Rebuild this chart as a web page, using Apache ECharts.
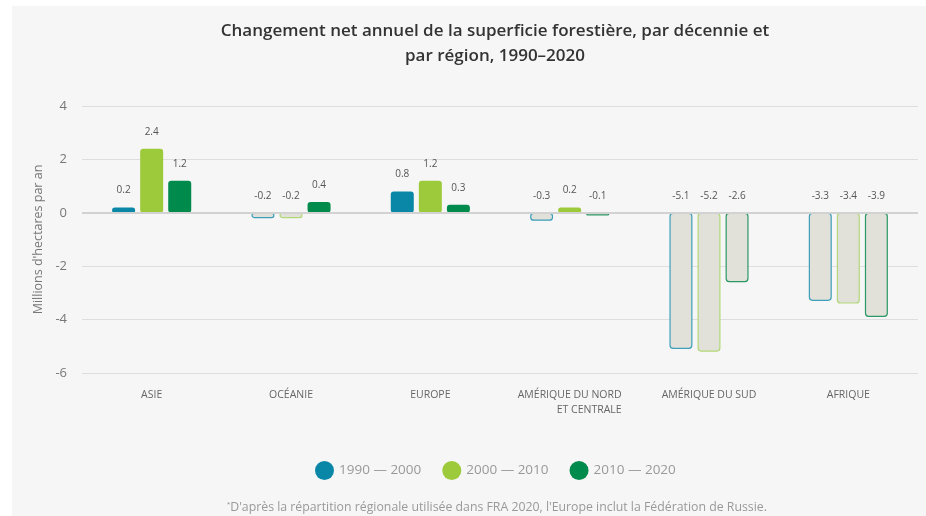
<!DOCTYPE html>
<html>
<head>
<meta charset="utf-8">
<script src="https://cdn.jsdelivr.net/npm/echarts@6/dist/echarts.min.js"></script>
<style>
  html, body { margin: 0; padding: 0; background: #ffffff; }
  #main { position: absolute; left: 12px; top: 6px; width: 914px; height: 510px; background: #f6f6f6; }
</style>
</head>
<body>
<div id="main"></div>
<script>
var regions = ['ASIE', 'OCÉANIE', 'EUROPE', 'AMÉRIQUE DU NORD\nET CENTRALE', 'AMÉRIQUE DU SUD', 'AFRIQUE'];
var decades = ['1990 — 2000', '2000 — 2010', '2010 — 2020'];
var values1990 = [0.2, -0.2, 0.8, -0.3, -5.1, -3.3];
var values2000 = [2.4, -0.2, 1.2, 0.2, -5.2, -3.4];
var values2010 = [1.2, 0.4, 0.3, -0.1, -2.6, -3.9];
var colors = ['#0a87a6', '#9dca3a', '#008a4b'];
var lossBorders = ['#3d9fba', '#b2d777', '#2b9865'];

var chartDom = document.getElementById('main');
var myChart = echarts.init(chartDom);
var font = '"Open Sans", sans-serif';

function makeSeries(name, vals, i) {
  var s = {
    name: name,
    type: 'bar',
    barWidth: 23,
    barGap: '22%',
    itemStyle: { color: colors[i], borderRadius: 3 },
    label: {
      show: true,
      position: 'top',
      distance: 12,
      fontSize: 10,
      fontFamily: font,
      color: '#555'
    },
    data: vals.map(function (v) {
      if (v < 0) {
        return {
          value: v,
          itemStyle: { color: '#e1e1da', borderColor: lossBorders[i], borderWidth: 1.2, borderRadius: 3 }
        };
      }
      return { value: v };
    })
  };
  if (i === 0) {
    // zero line
    s.markLine = {
      silent: true,
      symbol: 'none',
      label: { show: false },
      lineStyle: { color: '#d2d2d2', width: 2, type: 'solid' },
      data: [{ yAxis: 0 }]
    };
  }
  return s;
}

var option = {
  backgroundColor: '#f6f6f6',
  color: colors,
  title: {
    text: 'Changement net annuel de la superficie forestière, par décennie et\npar région, 1990–2020',
    left: 478,
    top: 8,
    textAlign: 'center',
    textStyle: { fontFamily: font, fontSize: 17, fontWeight: 600, color: '#333', lineHeight: 25 }
  },
  legend: {
    data: decades,
    left: 298,
    top: 450,
    icon: 'circle',
    itemWidth: 19,
    itemHeight: 19,
    itemGap: 21,
    textStyle: { fontFamily: font, fontSize: 13.5, color: '#999' }
  },
  graphic: [{
    type: 'text',
    x: 485,
    y: 501,
    style: {
      text: '{sup|*}D\'après la répartition régionale utilisée dans FRA 2020, l\'Europe inclut la Fédération de Russie.',
      font: '12.3px ' + font,
      fill: '#999',
      align: 'center',
      verticalAlign: 'middle',
      rich: { sup: { fontSize: 8, verticalAlign: 'top', fill: '#999' } }
    }
  }],
  grid: { left: 70, right: 8, top: 100, bottom: 143, outerBoundsMode: 'none', containLabel: false },
  xAxis: {
    type: 'category',
    data: regions,
    axisTick: { show: false },
    axisLine: { show: false, onZero: false },
    axisLabel: {
      interval: 0,
      margin: 15,
      verticalAlign: 'top',
      formatter: function (v) {
        return v.split('\n').map(function (line) { return '{r|' + line + '}'; }).join('\n');
      },
      rich: {
        r: { fontFamily: font, fontSize: 10.5, color: '#666', lineHeight: 15, align: 'right' }
      }
    }
  },
  yAxis: {
    type: 'value',
    min: -6,
    max: 4,
    interval: 2,
    name: 'Millions d\'hectares par an',
    nameLocation: 'middle',
    nameGap: 30,
    nameTextStyle: { fontFamily: font, fontSize: 12.5, color: '#777' },
    axisLabel: { margin: 15, fontFamily: font, fontSize: 13, color: '#777' },
    splitLine: { lineStyle: { color: '#dedede' } }
  },
  series: [
    makeSeries(decades[0], values1990, 0),
    makeSeries(decades[1], values2000, 1),
    makeSeries(decades[2], values2010, 2)
  ]
};

option && myChart.setOption(option);
</script>
</body>
</html>
